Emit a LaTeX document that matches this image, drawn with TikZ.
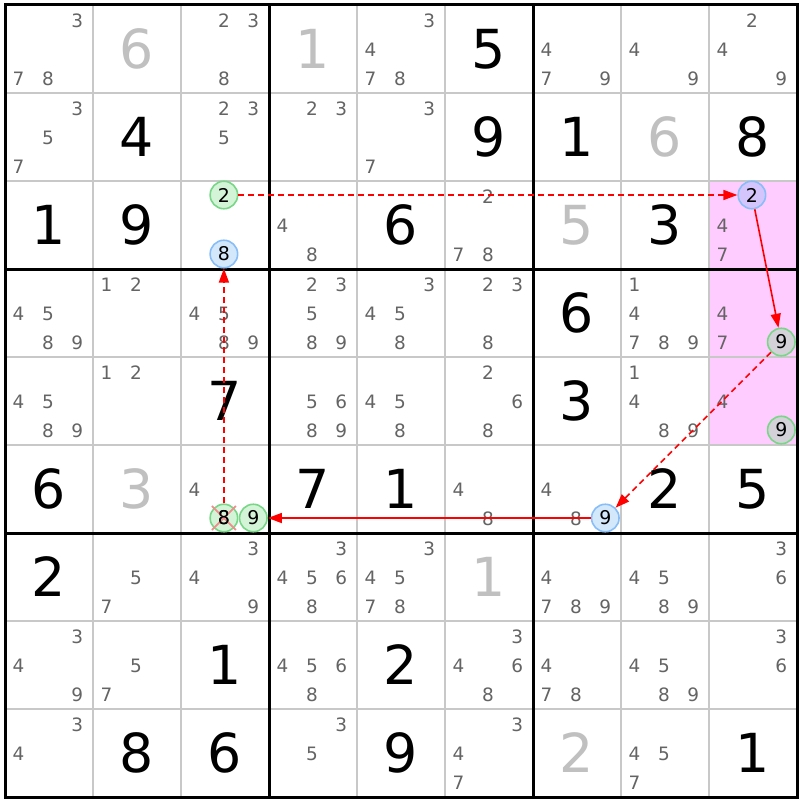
\documentclass[tikz,border=0pt]{standalone}
\usepackage{fontspec}
\setmainfont{DejaVu Sans}
\usetikzlibrary{arrows.meta}
\definecolor{candgray}{RGB}{100,100,100}
\definecolor{solvgray}{RGB}{192,192,192}
\definecolor{thingray}{RGB}{200,200,200}
\definecolor{pinkbg}{RGB}{255,204,255}
\definecolor{gbord}{RGB}{120,215,135}
\definecolor{gfill}{RGB}{126,222,138}
\definecolor{bbord}{RGB}{135,190,248}
\definecolor{bfill}{RGB}{126,186,246}
\definecolor{xred}{RGB}{240,140,140}
\newcommand\Cands[3]{\foreach \d in {#3}{%
  \pgfmathtruncatemacro\ci{mod(\d-1,3)}%
  \pgfmathtruncatemacro\ri{(\d-1)/3}%
  \node[cand] (c#1#2-\d) at ({5+88*#2+13.5+29.4*\ci},{5+88*#1+15.5+29*\ri}) {\d};}}
\newcommand\Given[3]{\node[bigd] (g#1#2) at ({5+88*#2+44},{5+88*#1+44}) {#3};}
\newcommand\Solved[3]{\node[bigd,text=solvgray] (g#1#2) at ({5+88*#2+44},{5+88*#1+44}) {#3};}
\newcommand\Circ[5]{%
  \pgfmathtruncatemacro\ci{mod(#5-1,3)}%
  \pgfmathtruncatemacro\ri{(#5-1)/3}%
  \node[#1] (#2) at ({5+88*#4+13.5+29.4*\ci},{5+88*#3+14+29.5*\ri}) {#5};}
\tikzset{
  cand/.style={inner sep=0pt, text=candgray, font=\fontsize{18.5}{19}\selectfont},
  bigd/.style={inner sep=0pt, text=black, font=\fontsize{54}{55}\selectfont},
  circbase/.style={circle, minimum size=27.5bp, inner sep=0pt, line width=1.6bp,
    fill opacity=0.33, text opacity=1, text=black, font=\fontsize{19}{19}\selectfont},
  gc/.style={circbase, draw=gbord, fill=gfill},
  bc/.style={circbase, draw=bbord, fill=bfill},
  thinl/.style={draw=thingray, line width=1.2bp},
  thickl/.style={draw=black, line width=3bp},
  linkarrow/.style={draw=red, line width=1.6bp, -{Triangle[length=14bp,width=10bp]}},
  weaklink/.style={linkarrow, dash pattern=on 6bp off 4bp},
  xmark/.style={draw=xred, line width=1.8bp}
}
\begin{document}
\begin{tikzpicture}[x=1bp,y=-1bp]
\useasboundingbox (0,0) rectangle (800,800);
\fill[white] (0,0) rectangle (800,800);
\fill[pinkbg] (709,181) rectangle (797,445);
\foreach \i in {1,...,8}{
  \draw[thinl] ({5+88*\i},5) -- ({5+88*\i},797);
  \draw[thinl] (5,{5+88*\i}) -- (797,{5+88*\i});
}
\foreach \i in {3,6}{
  \draw[thickl] ({5+88*\i},5) -- ({5+88*\i},797);
  \draw[thickl] (5,{5+88*\i}) -- (797,{5+88*\i});
}
\draw[thickl] (5,5) rectangle (797,797);
% row 0
\Cands{0}{0}{3,7,8} \Solved{0}{1}{6} \Cands{0}{2}{2,3,8} \Solved{0}{3}{1} \Cands{0}{4}{3,4,7,8}
\Given{0}{5}{5} \Cands{0}{6}{4,7,9} \Cands{0}{7}{4,9} \Cands{0}{8}{2,4,9}
% row 1
\Cands{1}{0}{3,5,7} \Given{1}{1}{4} \Cands{1}{2}{2,3,5} \Cands{1}{3}{2,3} \Cands{1}{4}{3,7}
\Given{1}{5}{9} \Given{1}{6}{1} \Solved{1}{7}{6} \Given{1}{8}{8}
% row 2
\Given{2}{0}{1} \Given{2}{1}{9} \Cands{2}{3}{4,8} \Given{2}{4}{6} \Cands{2}{5}{2,7,8}
\Solved{2}{6}{5} \Given{2}{7}{3} \Cands{2}{8}{4,7}
% row 3
\Cands{3}{0}{4,5,8,9} \Cands{3}{1}{1,2} \Cands{3}{2}{4,5,8,9} \Cands{3}{3}{2,3,5,8,9}
\Cands{3}{4}{3,4,5,8} \Cands{3}{5}{2,3,8} \Given{3}{6}{6} \Cands{3}{7}{1,4,7,8,9} \Cands{3}{8}{4,7}
% row 4
\Cands{4}{0}{4,5,8,9} \Cands{4}{1}{1,2} \Given{4}{2}{7} \Cands{4}{3}{5,6,8,9} \Cands{4}{4}{4,5,8}
\Cands{4}{5}{2,6,8} \Given{4}{6}{3} \Cands{4}{7}{1,4,8,9} \Cands{4}{8}{4}
% row 5
\Given{5}{0}{6} \Solved{5}{1}{3} \Cands{5}{2}{4} \Given{5}{3}{7} \Given{5}{4}{1}
\Cands{5}{5}{4,8} \Cands{5}{6}{4,8} \Given{5}{7}{2} \Given{5}{8}{5}
% row 6
\Given{6}{0}{2} \Cands{6}{1}{5,7} \Cands{6}{2}{3,4,9} \Cands{6}{3}{3,4,5,6,8} \Cands{6}{4}{3,4,5,7,8}
\Solved{6}{5}{1} \Cands{6}{6}{4,7,8,9} \Cands{6}{7}{4,5,8,9} \Cands{6}{8}{3,6}
% row 7
\Cands{7}{0}{3,4,9} \Cands{7}{1}{5,7} \Given{7}{2}{1} \Cands{7}{3}{4,5,6,8} \Given{7}{4}{2}
\Cands{7}{5}{3,4,6,8} \Cands{7}{6}{4,7,8} \Cands{7}{7}{4,5,8,9} \Cands{7}{8}{3,6}
% row 8
\Cands{8}{0}{3,4} \Given{8}{1}{8} \Given{8}{2}{6} \Cands{8}{3}{3,5} \Given{8}{4}{9}
\Cands{8}{5}{3,4,7} \Solved{8}{6}{2} \Cands{8}{7}{4,5,7} \Given{8}{8}{1}
% highlighted candidates
\Circ{gc}{a}{2}{2}{2}
\Circ{bc}{b}{2}{2}{8}
\Circ{bc}{c}{2}{8}{2}
\Circ{gc}{d}{3}{8}{9}
\Circ{gc}{e}{4}{8}{9}
\Circ{gc}{f}{5}{2}{8}
\Circ{gc}{g}{5}{2}{9}
\Circ{bc}{h}{5}{6}{9}
% links
\draw[weaklink] (a) -- (c);
\draw[linkarrow] (c) -- (d);
\draw[weaklink] (d) -- (h);
\draw[linkarrow] (h) -- (g);
\draw[weaklink] (f) -- (b);
% elimination mark
\draw[xmark] ([shift={(-12,-12)}]f.center) -- ([shift={(12,12)}]f.center);
\draw[xmark] ([shift={(-12,12)}]f.center) -- ([shift={(12,-12)}]f.center);
\node[inner sep=0pt, text=black, font=\fontsize{19}{19}\selectfont] (fd) at (f.center) {8};
\end{tikzpicture}
\end{document}
